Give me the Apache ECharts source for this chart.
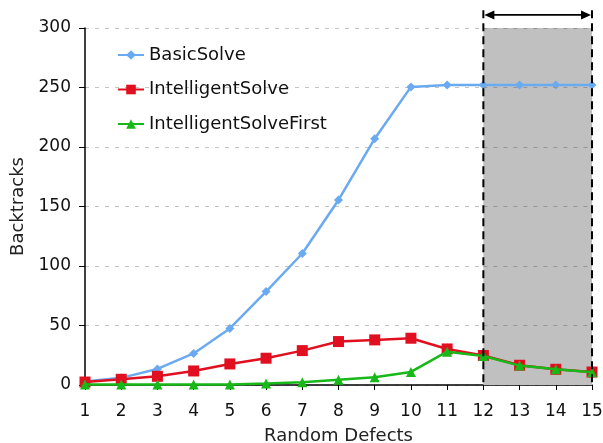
<!DOCTYPE html>
<html><head><meta charset="utf-8">
<script src="https://cdn.jsdelivr.net/npm/echarts@6/dist/echarts.min.js"></script>
<style>html,body{margin:0;padding:0;background:#fff}#c{width:603px;height:443px}</style>
</head><body><div id="c"></div>
<script>
const categories = [1,2,3,4,5,6,7,8,9,10,11,12,13,14,15];
const basicSolve = [3,6,13.5,26.5,47.5,78.5,110.5,155.5,207,250.5,252,252,252,252,252];
const intelligentSolve = [2.5,4.8,7.3,11.8,17.7,22.5,28.9,36.5,37.9,39.3,30.3,24.8,16.6,13.2,10.9];
const intelligentSolveFirst = [0.5,0.5,0.5,0.5,0.5,1.2,2.4,4.5,6.5,11,28,24.4,16.3,13.2,10.7];
const yTicks = [0,50,100,150,200,250,300];
const highlightRange = [12,15];
const annotTop = 315, arrowY = 311;

const font = 'DejaVu Sans';
const toPts = arr => arr.map((v,i)=>[categories[i], v]);

const chart = echarts.init(document.getElementById('c'));
chart.setOption({
  animation:false,
  textStyle:{fontFamily:font},
  grid:{left:85,right:11,top:28,bottom:58,outerBoundsMode:'none',containLabel:false},
  legend:{
    orient:'vertical', left:112, top:41, itemGap:16.5, itemWidth:26, itemHeight:12,
    textStyle:{fontSize:18,color:'#111',fontFamily:font},
    data:['BasicSolve','IntelligentSolve','IntelligentSolveFirst']
  },
  xAxis:{
    type:'value', min:1, max:15, interval:1,
    name:'Random Defects', nameLocation:'middle', nameGap:42,
    nameTextStyle:{fontSize:18,color:'#222',fontFamily:font},
    axisLine:{lineStyle:{color:'#000',width:1.5}},
    axisTick:{show:true,length:5,lineStyle:{color:'#000'}},
    axisLabel:{fontSize:17,color:'#111',margin:18,fontFamily:font},
    splitLine:{show:false}
  },
  yAxis:{
    type:'value', min:yTicks[0], max:yTicks[yTicks.length-1], interval:50,
    name:'Backtracks', nameLocation:'middle', nameGap:56, nameRotate:90,
    nameTextStyle:{fontSize:18,color:'#222',fontFamily:font},
    axisLine:{show:true,lineStyle:{color:'#000',width:1.5}},
    axisTick:{show:true,length:6,lineStyle:{color:'#000'}},
    axisLabel:{fontSize:17,color:'#111',margin:14,fontFamily:font},
    splitLine:{show:true,lineStyle:{color:'#c4c4c4',type:[4,6],width:1.2}}
  },
  series:[
    {
      name:'shade', type:'line', data:toPts(basicSolve), silent:true, z:1,
      showSymbol:false, symbol:'none', lineStyle:{opacity:0}, tooltip:{show:false},
      markArea:{silent:true, itemStyle:{color:'#c0c0c0'},
        data:[[{coord:[highlightRange[0],0]},{coord:[highlightRange[1],300]}]]},
      markLine:{silent:true, symbol:['none','none'], label:{show:false},
        lineStyle:{color:'#959595',type:[4,6],width:1.2},
        data:yTicks.slice(1).map(v=>[{coord:[highlightRange[0],v]},{coord:[highlightRange[1],v]}])}
    },
    {
      name:'BasicSolve', type:'line', data:toPts(basicSolve),
      symbol:'diamond', symbolSize:9, color:'#6aaaf0',
      lineStyle:{width:2.5,color:'#6aaaf0'}, itemStyle:{color:'#6aaaf0'}, z:3
    },
    {
      name:'IntelligentSolve', type:'line', data:toPts(intelligentSolve),
      symbol:'rect', symbolSize:11, color:'#e01020',
      lineStyle:{width:2.5,color:'#e01020'}, itemStyle:{color:'#e01020'}, z:4
    },
    {
      name:'IntelligentSolveFirst', type:'line', data:toPts(intelligentSolveFirst),
      symbol:'triangle', symbolSize:10, color:'#18b818',
      lineStyle:{width:2.5,color:'#18b818'}, itemStyle:{color:'#18b818'}, z:5
    }
  ]
});

// annotation: dashed boundaries and double arrow, positioned through the axes' scales
const px = v => chart.convertToPixel({gridIndex:0}, v);
const [xa, y0] = px([highlightRange[0], 0]);
const [xb] = px([highlightRange[1], 0]);
const [, yTop] = px([highlightRange[0], annotTop]);
const [, yArr] = px([highlightRange[0], arrowY]);
const head = 11, hw = 4.5;
chart.setOption({
  graphic:[
    {type:'line', z:10, silent:true, shape:{x1:xa,y1:yTop,x2:xa,y2:y0}, style:{stroke:'#000',lineWidth:2,lineDash:[8,5]}},
    {type:'line', z:10, silent:true, shape:{x1:xb,y1:yTop,x2:xb,y2:y0}, style:{stroke:'#000',lineWidth:2,lineDash:[8,5]}},
    {type:'line', z:10, silent:true, shape:{x1:xa+head-2,y1:yArr,x2:xb-head+2,y2:yArr}, style:{stroke:'#000',lineWidth:1.8}},
    {type:'polygon', z:10, silent:true, shape:{points:[[xa+1,yArr],[xa+head,yArr-hw],[xa+head,yArr+hw]]}, style:{fill:'#000'}},
    {type:'polygon', z:10, silent:true, shape:{points:[[xb-1,yArr],[xb-head,yArr-hw],[xb-head,yArr+hw]]}, style:{fill:'#000'}}
  ]
});
</script></body></html>
